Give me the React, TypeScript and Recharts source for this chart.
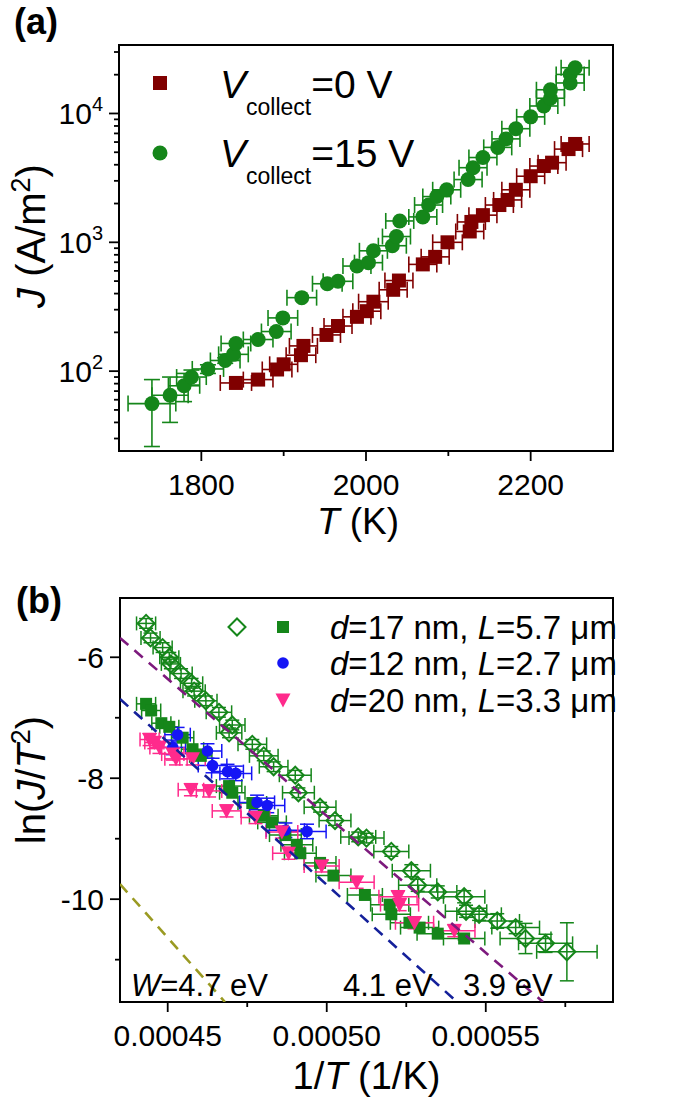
import React from 'react';
import { ScatterChart, Scatter, XAxis, YAxis, ErrorBar, ReferenceArea, Label } from 'recharts';

const FONT = '"Liberation Sans", Arial, Helvetica, sans-serif';

// ---- panel (a): J vs T ----
const tZero = [1842, 1869, 1892, 1900, 1921, 1924, 1952, 1966, 1989, 2001, 2009, 2033, 2040, 2069, 2084, 2099, 2126, 2128, 2142, 2162, 2172, 2182, 2200, 2216, 2226, 2246, 2254];
const jZero = [81, 86, 103, 113, 133, 157, 191, 224, 264, 292, 346, 428, 505, 674, 771, 1000, 1214, 1439, 1625, 1947, 2132, 2557, 3258, 3908, 4150, 5290, 5800];
const tErrZero = [19, 18, 18, 17, 18, 17, 17, 17, 17, 17, 18, 17, 17, 17, 17, 18, 17, 17, 17, 17, 17, 17, 17, 17, 17, 17, 17];

const tFifteen = [1740, 1762, 1779, 1788, 1808, 1829, 1839, 1842, 1869, 1891, 1899, 1922, 1953, 1966, 1989, 2003, 2009, 2032, 2037, 2041, 2069, 2076, 2086, 2098, 2124, 2130, 2142, 2160, 2170, 2182, 2200, 2216, 2224, 2224, 2248, 2248, 2254];
const jFifteen = [56, 65, 77, 90, 104, 121, 135, 164, 176, 203, 259, 372, 477, 498, 654, 695, 859, 941, 1109, 1465, 1575, 1947, 2265, 2557, 3069, 3795, 4550, 5455, 6350, 7620, 9415, 11430, 13130, 15280, 17250, 20090, 22650];
const tErrFifteen = [29, 22, 19, 18, 19, 18, 18, 18, 18, 18, 18, 18, 18, 18, 17, 17, 17, 17, 17, 17, 17, 17, 17, 17, 17, 17, 17, 17, 17, 17, 17, 17, 17, 17, 17, 17, 17];
const jErrFifteen = [30, 25, 19, 12, 8, 6, 0, 0, 0, 0, 0, 0, 0, 0, 0, 0, 0, 0, 0, 0, 0, 0, 0, 0, 0, 0, 0, 0, 0, 0, 0, 0, 0, 0, 0, 0, 0];

const tMajor = [1800, 2000, 2200];
const tMinor = [1900, 2100];
const jDecades = [100, 1000, 10000];
const jMinor = [30, 40, 50, 60, 70, 80, 90, 200, 300, 400, 500, 600, 700, 800, 900, 2000, 3000, 4000, 5000, 6000, 7000, 8000, 9000, 20000, 30000];

// ---- panel (b): ln(J/T^2) vs 1/T ----
const invT17open = [0.0004432, 0.0004446, 0.0004484, 0.0004505, 0.000451, 0.0004542, 0.0004575, 0.0004583, 0.000462, 0.0004661, 0.0004703, 0.0004693, 0.0004766, 0.0004802, 0.0004833, 0.0004901, 0.0004911, 0.0004979, 0.0005026, 0.0005099, 0.0005125, 0.0005203, 0.0005266, 0.0005286, 0.0005349, 0.0005432, 0.0005438, 0.0005479, 0.0005536, 0.0005594, 0.0005625, 0.0005688, 0.0005755];
const ln17open = [-5.44, -5.68, -5.84, -6.0, -6.11, -6.27, -6.43, -6.56, -6.72, -6.91, -7.12, -7.25, -7.44, -7.63, -7.81, -7.95, -8.24, -8.48, -8.7, -8.97, -8.99, -9.21, -9.53, -9.77, -9.88, -9.96, -10.2, -10.25, -10.36, -10.47, -10.65, -10.73, -10.87];
const xErr17open = [3e-6, 3e-6, 3e-6, 3e-6, 3e-6, 3.5e-6, 3.5e-6, 3.5e-6, 3.5e-6, 4e-6, 4e-6, 4e-6, 4.5e-6, 4.5e-6, 4.5e-6, 5e-6, 5e-6, 5e-6, 5e-6, 5.5e-6, 5.5e-6, 5.5e-6, 6e-6, 6e-6, 6e-6, 6.5e-6, 6.5e-6, 7e-6, 7e-6, 7.5e-6, 8e-6, 8.5e-6, 9.5e-6];
const yErr17open = [0.08, 0.08, 0.08, 0.08, 0.08, 0.08, 0.08, 0.08, 0.08, 0.08, 0.08, 0.08, 0.08, 0.08, 0.08, 0.08, 0.08, 0.08, 0.08, 0.08, 0.08, 0.08, 0.1, 0.1, 0.1, 0.1, 0.1, 0.1, 0.12, 0.1, 0.25, 0.15, 0.48];

const invT17 = [0.0004432, 0.0004448, 0.000448, 0.0004505, 0.0004547, 0.0004578, 0.0004604, 0.0004693, 0.0004703, 0.0004766, 0.0004802, 0.0004828, 0.000487, 0.0004906, 0.0004917, 0.0004979, 0.0005021, 0.000512, 0.0005198, 0.0005203, 0.000526, 0.0005292, 0.0005349, 0.0005432];
const ln17 = [-6.77, -6.88, -7.09, -7.15, -7.33, -7.52, -7.63, -8.13, -8.24, -8.41, -8.62, -8.73, -8.94, -9.1, -9.24, -9.4, -9.61, -9.93, -10.09, -10.25, -10.39, -10.47, -10.57, -10.65];
const xErr17 = [3e-6, 3e-6, 3e-6, 3e-6, 3.5e-6, 3.5e-6, 3.5e-6, 4e-6, 4e-6, 4.5e-6, 4.5e-6, 4.5e-6, 5e-6, 5e-6, 5e-6, 5e-6, 5.5e-6, 5.5e-6, 6e-6, 6e-6, 6e-6, 6e-6, 6.5e-6, 6.5e-6];

const invT12 = [0.0004531, 0.0004516, 0.0004625, 0.0004641, 0.0004688, 0.0004714, 0.0004781, 0.0004813, 0.000487, 0.0004938];
const ln12 = [-7.28, -7.49, -7.55, -7.79, -7.89, -7.92, -8.4, -8.45, -8.86, -8.88];
const xErr12 = [4e-6, 4e-6, 4.5e-6, 4.5e-6, 5e-6, 5e-6, 5.5e-6, 5.5e-6, 6e-6, 6e-6];
const yErr12 = [0.12, 0.12, 0.12, 0.12, 0.12, 0.12, 0.12, 0.12, 0.12, 0.12];

const invT20 = [0.0004443, 0.0004458, 0.0004474, 0.0004516, 0.0004526, 0.0004578, 0.0004573, 0.000463, 0.0004685, 0.0004776, 0.0004859, 0.000488, 0.0004984, 0.0005094, 0.0005224, 0.0005229, 0.0005276, 0.0005401];
const ln20 = [-7.36, -7.41, -7.49, -7.6, -7.68, -7.68, -8.19, -8.21, -8.54, -8.65, -8.89, -9.24, -9.45, -9.72, -9.96, -10.09, -10.39, -10.52];
const xErr20 = [3e-6, 3e-6, 3e-6, 3.5e-6, 3.5e-6, 4e-6, 4e-6, 4e-6, 4.5e-6, 4.5e-6, 5e-6, 5e-6, 5.5e-6, 5.5e-6, 6e-6, 6e-6, 6e-6, 6.5e-6];

// dashed Richardson fits, W = 3.9 / 4.1 / 4.7 eV (end points)
const fit39x = [0.000435, 0.000568];
const fit39y = [-5.68, -11.7];
const fit41x = [0.000435, 0.000541];
const fit41y = [-6.69, -11.7];
const fit47x = [0.000435, 0.000468];
const fit47y = [-9.75, -11.7];

const invTMajor = [0.00045, 0.0005, 0.00055];
const invTMinor = [0.000475, 0.000525, 0.000575];
const lnMajor = [-6, -8, -10];
const lnMinor = [-7, -9, -11];

const GREEN = '#15861a';
const DARKRED = '#800000';
const BLUE = '#1515f5';
const PINK = '#ff2a8c';

const TICK = 9;
const GAP = 8;
const TICK_FONT = 30;

const leftTick = (majors: number[], fmt: (v: number) => React.ReactNode) => (p: any) => {
  const v = p.payload.value;
  const axisX = p.x + TICK + GAP;
  const major = majors.includes(v);
  return (
    <g>
      <line x1={axisX - (major ? 10 : 5)} x2={axisX} y1={p.y} y2={p.y} stroke="#000" strokeWidth={1.8} />
      {major && (
        <text x={axisX - 16} y={p.y + 11} textAnchor="end" fontSize={TICK_FONT} fontFamily={FONT} fill="#000">
          {fmt(v)}
        </text>
      )}
    </g>
  );
};

const bottomTick = (majors: number[], fmt: (v: number) => string) => (p: any) => {
  const v = p.payload.value;
  const axisY = p.y - TICK - GAP;
  const major = majors.includes(v);
  return (
    <g>
      <line x1={p.x} x2={p.x} y1={axisY} y2={axisY + (major ? 10 : 5)} stroke="#000" strokeWidth={1.8} />
      {major && (
        <text x={p.x} y={axisY + 44} textAnchor="middle" fontSize={TICK_FONT} fontFamily={FONT} fill="#000">
          {fmt(v)}
        </text>
      )}
    </g>
  );
};

const decadeLabel = (v: number) => (
  <>
    <tspan>10</tspan>
    <tspan fontSize={20} dy={-13}>{Math.round(Math.log10(v))}</tspan>
  </>
);

const squareShape = (size: number, color: string) => (p: any) => (
  <rect x={p.cx - size / 2} y={p.cy - size / 2} width={size} height={size} fill={color} />
);
const circleShape = (r: number, color: string) => (p: any) => <circle cx={p.cx} cy={p.cy} r={r} fill={color} />;
const diamondShape = (p: any) => (
  <polygon
    points={`${p.cx},${p.cy - 8.5} ${p.cx + 8.5},${p.cy} ${p.cx},${p.cy + 8.5} ${p.cx - 8.5},${p.cy}`}
    fill="none"
    stroke={GREEN}
    strokeWidth={2}
  />
);
const triangleShape = (p: any) => (
  <polygon points={`${p.cx - 7.5},${p.cy - 6.5} ${p.cx + 7.5},${p.cy - 6.5} ${p.cx},${p.cy + 7.5}`} fill={PINK} />
);
const noShape = () => <g />;

const dataA0 = tZero.map((t, i) => ({ x: t, y: jZero[i], ex: tErrZero[i], ey: 0 }));
const dataA15 = tFifteen.map((t, i) => ({ x: t, y: jFifteen[i], ex: tErrFifteen[i], ey: jErrFifteen[i] }));

const data17open = invT17open.map((x, i) => ({ x, y: ln17open[i], ex: xErr17open[i], ey: yErr17open[i] }));
const data17 = invT17.map((x, i) => ({ x, y: ln17[i], ex: xErr17[i], ey: 0.05 }));
const data12 = invT12.map((x, i) => ({ x, y: ln12[i], ex: xErr12[i], ey: yErr12[i] }));
const data20 = invT20.map((x, i) => ({ x, y: ln20[i], ex: xErr20[i], ey: 0.1 }));
const fit39 = fit39x.map((x, i) => ({ x, y: fit39y[i] }));
const fit41 = fit41x.map((x, i) => ({ x, y: fit41y[i] }));
const fit47 = fit47x.map((x, i) => ({ x, y: fit47y[i] }));

const dash = { strokeWidth: 2.6, strokeDasharray: '11 8' };

function PanelA() {
  return (
    <ScatterChart width={685} height={560} margin={{ top: 45, right: 72, bottom: 19, left: 0 }}>
      <XAxis
        type="number"
        dataKey="x"
        domain={[1700, 2300]}
        allowDataOverflow
        ticks={[...tMajor, ...tMinor]}
        interval={0}
        tick={bottomTick(tMajor, (v) => String(v))}
        tickLine={false}
        axisLine={false}
        tickSize={TICK}
        tickMargin={GAP}
        height={90}
      >
        <Label
          content={(props: any) => {
            const vb = props.viewBox;
            return (
              <text x={vb.x + vb.width / 2 - 8} y={vb.y + 83} textAnchor="middle" fontSize={37} fontFamily={FONT}>
                <tspan fontStyle="italic">T</tspan> (K)
              </text>
            );
          }}
        />
      </XAxis>
      <YAxis
        type="number"
        dataKey="y"
        scale="log"
        domain={[24, 34000]}
        allowDataOverflow
        ticks={[...jDecades, ...jMinor]}
        interval={0}
        tick={leftTick(jDecades, decadeLabel)}
        tickLine={false}
        axisLine={false}
        tickSize={TICK}
        tickMargin={GAP}
        width={119}
      >
        <Label
          content={(props: any) => {
            const vb = props.viewBox;
            const cy = vb.y + vb.height / 2 - 12;
            return (
              <text x={45} y={cy} transform={`rotate(-90, 45, ${cy})`} textAnchor="middle" fontSize={40} fontFamily={FONT}>
                <tspan fontStyle="italic">J</tspan> (A/m<tspan fontSize={27} dy={-15}>2</tspan>
                <tspan dy={15}>)</tspan>
              </text>
            );
          }}
        />
      </YAxis>
      <ReferenceArea x1={1700} x2={2300} y1={24} y2={34000} fill="none" stroke="#000" strokeWidth={2} ifOverflow="visible" />
      <Scatter data={dataA0} shape={squareShape(14, DARKRED)} isAnimationActive={false}>
        <ErrorBar dataKey="ex" direction="x" width={8} stroke={DARKRED} strokeWidth={1.6} />
      </Scatter>
      <Scatter data={dataA15} shape={circleShape(7.5, GREEN)} isAnimationActive={false}>
        <ErrorBar dataKey="ex" direction="x" width={8} stroke={GREEN} strokeWidth={1.6} />
        <ErrorBar dataKey="ey" direction="y" width={8} stroke={GREEN} strokeWidth={1.6} />
      </Scatter>
    </ScatterChart>
  );
}

function PanelB() {
  return (
    <ScatterChart width={685} height={543} margin={{ top: 38, right: 72, bottom: 11, left: 0 }}>
      <XAxis
        type="number"
        dataKey="x"
        domain={[0.000435, 0.00059]}
        allowDataOverflow
        ticks={[...invTMajor, ...invTMinor]}
        interval={0}
        tick={bottomTick(invTMajor, (v) => v.toFixed(5))}
        tickLine={false}
        axisLine={false}
        tickSize={TICK}
        tickMargin={GAP}
        height={90}
      >
        <Label
          content={(props: any) => {
            const vb = props.viewBox;
            return (
              <text x={vb.x + vb.width / 2} y={vb.y + 87} textAnchor="middle" fontSize={38} fontFamily={FONT}>
                1/<tspan fontStyle="italic">T</tspan> (1/K)
              </text>
            );
          }}
        />
      </XAxis>
      <YAxis
        type="number"
        dataKey="y"
        domain={[-11.7, -5.02]}
        allowDataOverflow
        ticks={[...lnMajor, ...lnMinor]}
        interval={0}
        tick={leftTick(lnMajor, (v) => String(v))}
        tickLine={false}
        axisLine={false}
        tickSize={TICK}
        tickMargin={GAP}
        width={120}
      >
        <Label
          content={(props: any) => {
            const vb = props.viewBox;
            const cy = vb.y + vb.height / 2 - 20;
            return (
              <text x={45} y={cy} transform={`rotate(-90, 45, ${cy})`} textAnchor="middle" fontSize={40} fontFamily={FONT}>
                ln(<tspan fontStyle="italic">J</tspan>/<tspan fontStyle="italic">T</tspan>
                <tspan fontSize={27} dy={-15}>2</tspan>
                <tspan dy={15}>)</tspan>
              </text>
            );
          }}
        />
      </YAxis>
      <ReferenceArea x1={0.000435} x2={0.00059} y1={-11.7} y2={-5.02} fill="none" stroke="#000" strokeWidth={2} ifOverflow="visible" />
      <Scatter data={data17open} shape={diamondShape} isAnimationActive={false}>
        <ErrorBar dataKey="ex" direction="x" width={7} stroke={GREEN} strokeWidth={1.5} />
        <ErrorBar dataKey="ey" direction="y" width={7} stroke={GREEN} strokeWidth={1.5} />
      </Scatter>
      <Scatter data={data17} shape={squareShape(12, GREEN)} isAnimationActive={false}>
        <ErrorBar dataKey="ex" direction="x" width={7} stroke={GREEN} strokeWidth={1.5} />
      </Scatter>
      <Scatter data={data12} shape={circleShape(5.8, BLUE)} isAnimationActive={false}>
        <ErrorBar dataKey="ex" direction="x" width={7} stroke={BLUE} strokeWidth={1.5} />
        <ErrorBar dataKey="ey" direction="y" width={7} stroke={BLUE} strokeWidth={1.5} />
      </Scatter>
      <Scatter data={data20} shape={triangleShape} isAnimationActive={false}>
        <ErrorBar dataKey="ex" direction="x" width={7} stroke={PINK} strokeWidth={1.5} />
        <ErrorBar dataKey="ey" direction="y" width={7} stroke={PINK} strokeWidth={1.5} />
      </Scatter>
      <Scatter data={fit39} shape={noShape} line={{ stroke: '#7d1a7d', ...dash }} isAnimationActive={false} />
      <Scatter data={fit41} shape={noShape} line={{ stroke: '#14209a', ...dash }} isAnimationActive={false} />
      <Scatter data={fit47} shape={noShape} line={{ stroke: '#9a9a22', ...dash }} isAnimationActive={false} />
    </ScatterChart>
  );
}

function Annotations() {
  const t = { fontFamily: FONT, fill: '#000' };
  return (
    <svg width={685} height={1103} style={{ position: 'absolute', left: 0, top: 0, pointerEvents: 'none' }}>
      <text x={14} y={34} fontSize={36} fontWeight="bold" {...t}>(a)</text>
      <text x={16} y={613} fontSize={36} fontWeight="bold" {...t}>(b)</text>

      {/* legend (a) */}
      <rect x={153} y={76} width={14} height={14} fill={DARKRED} />
      <text x={220} y={98} fontSize={39} {...t}>
        <tspan fontStyle="italic">V</tspan>
        <tspan fontSize={23} dy={17}>collect</tspan>
        <tspan dy={-17}>=0 V</tspan>
      </text>
      <circle cx={160} cy={153} r={7.5} fill={GREEN} />
      <text x={220} y={167} fontSize={39} {...t}>
        <tspan fontStyle="italic">V</tspan>
        <tspan fontSize={23} dy={17}>collect</tspan>
        <tspan dy={-17}>=15 V</tspan>
      </text>

      {/* legend (b) */}
      <polygon points="237,618.5 245.5,627 237,635.5 228.5,627" fill="none" stroke={GREEN} strokeWidth={2} />
      <rect x={277} y={621} width={12} height={12} fill={GREEN} />
      <circle cx={283} cy={663} r={5.8} fill={BLUE} />
      <polygon points="275.5,693.5 290.5,693.5 283,707.5" fill={PINK} />
      <text x={330} y={639} fontSize={33} {...t}>
        <tspan fontStyle="italic">d</tspan>=17 nm, <tspan fontStyle="italic">L</tspan>=5.7 μm
      </text>
      <text x={330} y={675} fontSize={33} {...t}>
        <tspan fontStyle="italic">d</tspan>=12 nm, <tspan fontStyle="italic">L</tspan>=2.7 μm
      </text>
      <text x={330} y={712} fontSize={33} {...t}>
        <tspan fontStyle="italic">d</tspan>=20 nm, <tspan fontStyle="italic">L</tspan>=3.3 μm
      </text>

      {/* work function labels */}
      <text x={131} y={996} fontSize={31} {...t}>
        <tspan fontStyle="italic">W</tspan>=4.7 eV
      </text>
      <text x={343} y={996} fontSize={31} {...t}>4.1 eV</text>
      <text x={463} y={996} fontSize={31} {...t}>3.9 eV</text>
    </svg>
  );
}

export default function App() {
  return (
    <div style={{ position: 'absolute', left: 0, top: 0, width: 685, height: 1103, background: '#fff', overflow: 'hidden', fontFamily: FONT }}>
      <div style={{ position: 'absolute', left: 0, top: 0 }}>
        <PanelA />
      </div>
      <div style={{ position: 'absolute', left: 0, top: 560 }}>
        <PanelB />
      </div>
      <Annotations />
    </div>
  );
}
